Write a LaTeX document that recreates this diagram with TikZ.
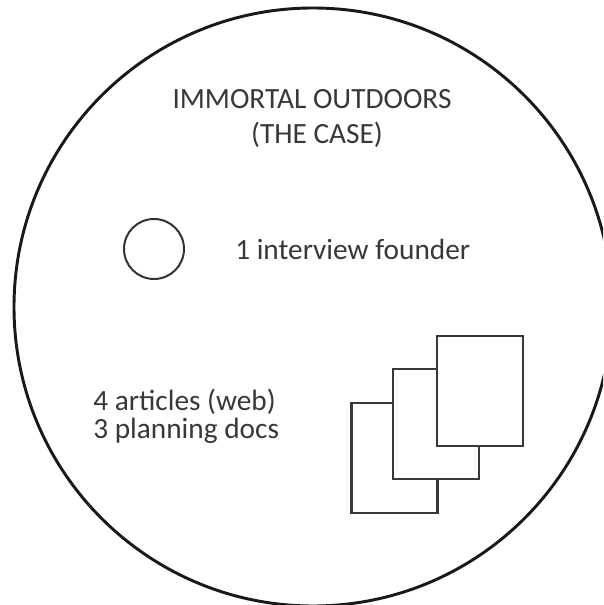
\documentclass[tikz,border=0pt]{standalone}
\usepackage{fontspec}
\setmainfont{Carlito}
\begin{document}
\begin{tikzpicture}[x=0.75pt,y=-0.75pt,
  lbl/.style={inner sep=0pt,text=black!78,font=\fontsize{22}{26}\selectfont},
  doc/.style={draw=black!78,line width=1.6pt,fill=white,inner sep=0pt,minimum width=64.5pt,minimum height=82.5pt},
  bigring/.style={draw=black!90,line width=2.2pt},
  smallring/.style={draw=black!80,line width=1.5pt,circle,inner sep=0pt,minimum size=45pt}]
\useasboundingbox (0,0) rectangle (603,605);
\clip (0,0) rectangle (603,605);
\fill[white] (0,0) rectangle (603,605);
\node[bigring,circle,inner sep=0pt,minimum size=448.5pt] (outer) at (313,307) {};
\node[lbl,anchor=base] (t1) at (312,108.3) {IMMORTAL OUTDOORS};
\node[lbl,anchor=base] (t2) at (317,143.3) {(THE CASE)};
\node[smallring] (face) at (154,249) {};
\node[lbl,anchor=base west] (iv) at (235,259.3) {1 interview founder};
\node[lbl,anchor=base west] (ar) at (93,410.5) {4 articles (web)};
\node[lbl,anchor=base west] (pd) at (93,438) {3 planning docs};
\node[doc] (dA) at (394.5,458) {};
\node[doc] (dB) at (436.3,424) {};
\node[doc] (dC) at (479.7,391) {};
\end{tikzpicture}
\end{document}
